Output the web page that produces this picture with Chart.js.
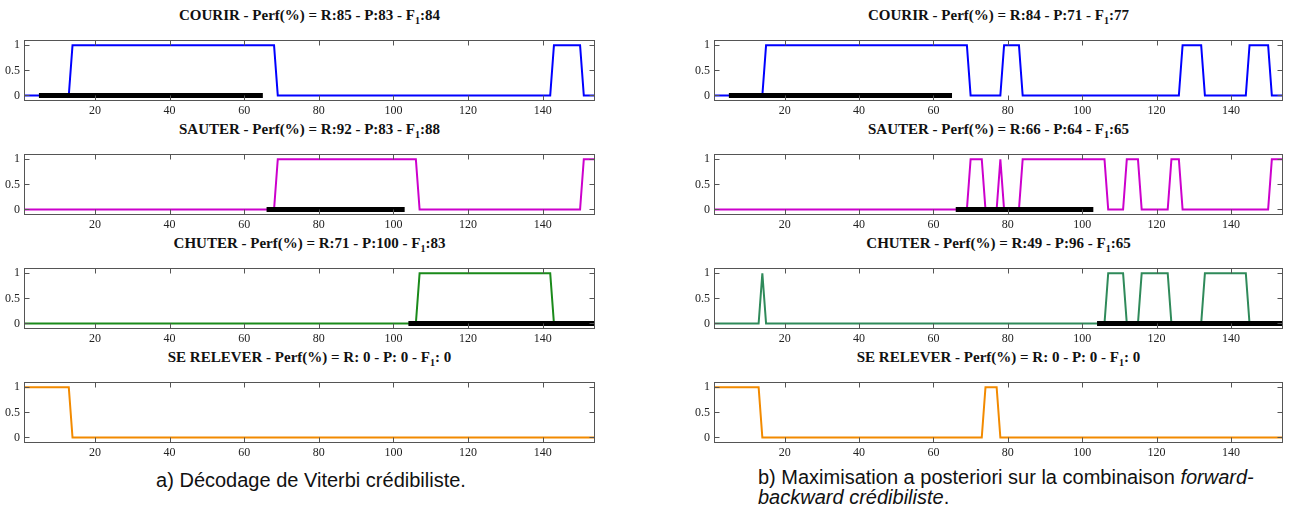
<!DOCTYPE html>
<html><head><meta charset="utf-8">
<script src="https://cdn.jsdelivr.net/npm/chart.js@4"></script>
<style>
html,body{margin:0;padding:0;background:#fff}
body{width:1290px;height:507px;position:relative;overflow:hidden;font-family:"Liberation Serif","Times New Roman",serif}
.t{position:absolute;font-weight:bold;font-size:15px;line-height:16px;color:#111;text-align:center;white-space:nowrap;transform:translateX(-50%)}
.t sub{font-size:10px;vertical-align:-4px;line-height:0}
canvas{position:absolute}
.cap{position:absolute;font-family:"Liberation Sans",Arial,sans-serif;font-size:20px;color:#111;white-space:nowrap}
</style></head><body>
<div class="cap" id="capA" style="left:311px;top:469px;line-height:22px;transform:translateX(-50%)">a) Décodage de Viterbi crédibiliste.</div>
<div class="cap" id="capB" style="left:758px;top:467px;line-height:20px">b) Maximisation a posteriori sur la combinaison <i>forward-</i><br><i>backward crédibiliste</i>.</div>
<script>
// ---- tick labels ----
const xTicks = [20, 40, 60, 80, 100, 120, 140];
const yTicks = [0, 0.5, 1];
const xMin = 1, xMax = 154;
const yMin = -0.11, yMax = 1.1;

// ---- a) Viterbi decoding: breakpoints (frame index) and decision values ----
const courirA_x = [1, 13, 14, 68, 69, 142, 143, 150, 151, 154];
const courirA_y = [0, 0, 1, 1, 0, 0, 1, 1, 0, 0];
const sauterA_x = [1, 68, 69, 106, 107, 150, 151, 154];
const sauterA_y = [0, 0, 1, 1, 0, 0, 1, 1];
const chuterA_x = [1, 106, 107, 142, 143, 154];
const chuterA_y = [0, 0, 1, 1, 0, 0];
const releverA_x = [1, 13, 14, 154];
const releverA_y = [1, 1, 0, 0];

// ---- b) forward-backward MAP ----
const courirB_x = [1, 14, 15, 69, 70, 78, 79, 83, 84, 126, 127, 132, 133, 144, 145, 150, 151, 154];
const courirB_y = [0, 0, 1, 1, 0, 0, 1, 1, 0, 0, 1, 1, 0, 0, 1, 1, 0, 0];
const sauterB_x = [1, 69, 70, 73, 74, 77, 78, 79, 83, 84, 106, 107, 111, 112, 115, 116, 123, 124, 126, 127, 150, 151, 154];
const sauterB_y = [0, 0, 1, 1, 0, 0, 1, 0, 0, 1, 1, 0, 0, 1, 1, 0, 0, 1, 1, 0, 0, 1, 1];
const chuterB_x = [1, 13, 14, 15, 106, 107, 111, 112, 115, 116, 123, 124, 132, 133, 144, 145, 154];
const chuterB_y = [0, 0, 1, 0, 0, 1, 1, 0, 0, 1, 1, 0, 0, 1, 1, 0, 0];
const releverB_x = [1, 13, 14, 73, 74, 77, 78, 154];
const releverB_y = [1, 1, 0, 0, 1, 1, 0, 0];

// ---- ground truth segments (start, end) ----
const truthCourir = [5, 65];
const truthSauter = [66, 103];
const truthChuter = [104, 154];
const truthRelever = [];

// ---- titles ----
const titlesA = [
  'COURIR - Perf(%) = R:85 - P:83 - F<sub>1</sub>:84',
  'SAUTER - Perf(%) = R:92 - P:83 - F<sub>1</sub>:88',
  'CHUTER - Perf(%) = R:71 - P:100 - F<sub>1</sub>:83',
  'SE RELEVER - Perf(%) = R: 0 - P: 0 - F<sub>1</sub>: 0'
];
const titlesB = [
  'COURIR - Perf(%) = R:84 - P:71 - F<sub>1</sub>:77',
  'SAUTER - Perf(%) = R:66 - P:64 - F<sub>1</sub>:65',
  'CHUTER - Perf(%) = R:49 - P:96 - F<sub>1</sub>:65',
  'SE RELEVER - Perf(%) = R: 0 - P: 0 - F<sub>1</sub>: 0'
];

const colorsA = ['#0000ff', '#cc00cc', '#1a8a1a', '#f28a00'];
const colorsB = ['#0000ff', '#cc00cc', '#2f8a5a', '#f28a00'];

const panels = [
  {col:0,row:0,xs:courirA_x,ys:courirA_y,truth:truthCourir,color:colorsA[0],title:titlesA[0]},
  {col:0,row:1,xs:sauterA_x,ys:sauterA_y,truth:truthSauter,color:colorsA[1],title:titlesA[1]},
  {col:0,row:2,xs:chuterA_x,ys:chuterA_y,truth:truthChuter,color:colorsA[2],title:titlesA[2]},
  {col:0,row:3,xs:releverA_x,ys:releverA_y,truth:truthRelever,color:colorsA[3],title:titlesA[3]},
  {col:1,row:0,xs:courirB_x,ys:courirB_y,truth:truthCourir,color:colorsB[0],title:titlesB[0]},
  {col:1,row:1,xs:sauterB_x,ys:sauterB_y,truth:truthSauter,color:colorsB[1],title:titlesB[1]},
  {col:1,row:2,xs:chuterB_x,ys:chuterB_y,truth:truthChuter,color:colorsB[2],title:titlesB[2]},
  {col:1,row:3,xs:releverB_x,ys:releverB_y,truth:truthRelever,color:colorsB[3],title:titlesB[3]}
];

// layout
const colLeft = [24, 714], colWidth = [571, 569];
const rowTop = 37, rowStep = 114, plotH = 64;
const padL = 34, padT = 8, padR = 4, axisB = 18;

const frame = {
  id: 'frame',
  afterDatasetsDraw(chart) {
    const {ctx, chartArea: a, scales: {x, y}} = chart;
    ctx.save();
    ctx.strokeStyle = '#555';
    ctx.lineWidth = 1;
    const L = Math.round(a.left) + 0.5, T = Math.round(a.top) + 0.5;
    const R = Math.round(a.right) - 0.5, B = Math.round(a.bottom) - 0.5;
    ctx.strokeRect(L, T, R - L, B - T);
    ctx.beginPath();
    xTicks.forEach(v => {
      const px = Math.round(x.getPixelForValue(v)) + 0.5;
      ctx.moveTo(px, T); ctx.lineTo(px, T + 5);
      ctx.moveTo(px, B); ctx.lineTo(px, B - 5);
    });
    yTicks.forEach(v => {
      const py = Math.round(y.getPixelForValue(v)) + 0.5;
      ctx.moveTo(L, py); ctx.lineTo(L + 5, py);
      ctx.moveTo(R, py); ctx.lineTo(R - 5, py);
    });
    ctx.stroke();
    ctx.restore();
  }
};

const tickFont = {family: "'Liberation Serif', 'Times New Roman', serif", size: 12};

panels.forEach(p => {
  const left = colLeft[p.col], w = colWidth[p.col];
  const top = rowTop + rowStep * p.row;
  const cv = document.createElement('canvas');
  const cw = w + padL + padR, ch = plotH + padT + axisB;
  cv.width = cw; cv.height = ch;
  cv.style.left = (left - padL) + 'px';
  cv.style.top = (top - padT) + 'px';
  cv.style.width = cw + 'px'; cv.style.height = ch + 'px';
  document.body.appendChild(cv);

  const t = document.createElement('div');
  t.className = 't';
  t.innerHTML = p.title;
  t.style.left = (left + w / 2) + 'px';
  t.style.top = (top - 30) + 'px';
  document.body.appendChild(t);

  new Chart(cv, {
    type: 'line',
    data: {
      datasets: [
        {data: p.truth.map(v => ({x: v, y: 0})), borderColor: '#000', borderWidth: 5,
         pointRadius: 0, order: 0, borderCapStyle: 'butt', tension: 0},
        {data: p.xs.map((v, i) => ({x: v, y: p.ys[i]})), borderColor: p.color, borderWidth: 2,
         pointRadius: 0, order: 1, tension: 0, borderJoinStyle: 'miter'}
      ]
    },
    options: {
      responsive: false, animation: false, devicePixelRatio: 1,
      layout: {padding: {left: 0, top: padT, right: padR, bottom: 0}},
      plugins: {legend: {display: false}, tooltip: {enabled: false}, title: {display: false}},
      scales: {
        x: {
          type: 'linear', min: xMin, max: xMax,
          grid: {display: false, drawTicks: false}, border: {display: false},
          afterBuildTicks: s => { s.ticks = xTicks.map(v => ({value: v})); },
          afterFit: s => { s.height = axisB; },
          ticks: {font: tickFont, color: '#222', padding: 3, maxRotation: 0, autoSkip: false,
                  callback: v => String(v)}
        },
        y: {
          type: 'linear', min: yMin, max: yMax,
          grid: {display: false, drawTicks: false}, border: {display: false},
          afterBuildTicks: s => { s.ticks = yTicks.map(v => ({value: v})); },
          afterFit: s => { s.width = padL; },
          ticks: {font: tickFont, color: '#222', padding: 4, autoSkip: false,
                  callback: v => String(v)}
        }
      }
    },
    plugins: [frame]
  });
});
</script>
</body></html>
